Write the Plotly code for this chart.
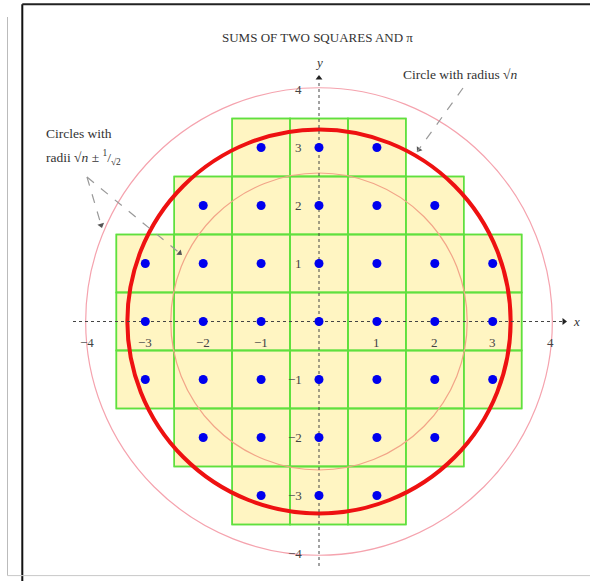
import math
import plotly.graph_objects as go

# ---------------- data ----------------
title_text = "SUMS OF TWO SQUARES AND π"
# lattice points (x, y) with x^2 + y^2 <= n  (n = 10)
pts_x = [-1, 0, 1,
         -2, -1, 0, 1, 2,
         -3, -2, -1, 0, 1, 2, 3,
         -3, -2, -1, 0, 1, 2, 3,
         -3, -2, -1, 0, 1, 2, 3,
         -2, -1, 0, 1, 2,
         -1, 0, 1]
pts_y = [3, 3, 3,
         2, 2, 2, 2, 2,
         1, 1, 1, 1, 1, 1, 1,
         0, 0, 0, 0, 0, 0, 0,
         -1, -1, -1, -1, -1, -1, -1,
         -2, -2, -2, -2, -2,
         -3, -3, -3]
# circle radii
r_outer = 4.03
r_main = 3.31
r_inner = 2.56
x_ticks = [-4, -3, -2, -1, 1, 2, 3, 4]
x_tick_labels = ["−4", "−3", "−2", "−1", "1", "2", "3", "4"]
y_ticks = [4, 3, 2, 1, -1, -2, -3, -4]
y_tick_labels = ["4", "3", "2", "1", "−1", "−2", "−3", "−4"]

# ---------------- styles ----------------
W, H = 590, 581
X0PX, UX = 319.0, 57.9
Y0PX, UY = 321.5, 58.0
xr = [-X0PX / UX, (W - X0PX) / UX]
yr = [-(H - Y0PX) / UY, Y0PX / UY]

def dx(px):
    return (px - X0PX) / UX

def dy(py):
    return (Y0PX - py) / UY

SERIF = "Liberation Serif, Times New Roman, serif"
fill_col = "#FFF5C2"
green = "#5FE03E"
blue = "#0000EE"
TXT = "#333333"

fig = go.Figure()
shapes = []
# unit squares around the lattice points
for px, py in zip(pts_x, pts_y):
    shapes.append(dict(type="rect", xref="x", yref="y",
                       x0=px - 0.5, x1=px + 0.5, y0=py - 0.5, y1=py + 0.5,
                       fillcolor=fill_col, line=dict(color=green, width=1.5),
                       layer="below"))
for px, py in zip(pts_x, pts_y):
    shapes.append(dict(type="rect", xref="x", yref="y",
                       x0=px - 0.5, x1=px + 0.5, y0=py - 0.5, y1=py + 0.5,
                       fillcolor="rgba(0,0,0,0)", line=dict(color=green, width=1.5),
                       layer="below"))
# circles
shapes.append(dict(type="circle", xref="x", yref="y", x0=-r_outer, x1=r_outer,
                   y0=-r_outer, y1=r_outer, line=dict(color="#F5A3AE", width=1.2), layer="below"))
shapes.append(dict(type="circle", xref="x", yref="y", x0=-r_inner, x1=r_inner,
                   y0=-r_inner, y1=r_inner, line=dict(color="#F2A588", width=1.2), layer="below"))
shapes.append(dict(type="circle", xref="x", yref="y", x0=-r_main, x1=r_main,
                   y0=-r_main, y1=r_main, line=dict(color="#EE1111", width=4), layer="below"))

# dashed pointer lines
pointers = [
    ((463, 88), (417, 152)),
    ((87, 177), (102, 228)),
    ((87, 177), (182, 255)),
]
head_x, head_y, head_ang = [], [], []
for (sx, sy), (ex, ey) in pointers:
    shapes.append(dict(type="line", xref="x", yref="y", x0=dx(sx), y0=dy(sy),
                       x1=dx(ex), y1=dy(ey), line=dict(color="#999999", width=1.2, dash="dash")))
    vx, vy = ex - sx, ey - sy
    L = (vx ** 2 + vy ** 2) ** 0.5
    head_x.append(dx(ex - vx / L * 3))
    head_y.append(dy(ey - vy / L * 3))
    head_ang.append(math.degrees(math.atan2(vx, -vy)))

# page frame (paper coords)
def px_(p):
    return p / W

def py_(p):
    return 1 - p / H

shapes += [
    dict(type="line", xref="paper", yref="paper", x0=px_(22.3), x1=px_(22.3), y0=py_(4.3), y1=0,
         line=dict(color="#111111", width=2)),
    dict(type="line", xref="paper", yref="paper", x0=px_(22.3), x1=1, y0=py_(4.3), y1=py_(4.3),
         line=dict(color="#222222", width=2)),
    dict(type="line", xref="paper", yref="paper", x0=px_(7.5), x1=px_(7.5), y0=py_(17), y1=py_(575.6),
         line=dict(color="#BBBBBB", width=1)),
    dict(type="line", xref="paper", yref="paper", x0=px_(7.5), x1=1, y0=py_(575.6), y1=py_(575.6),
         line=dict(color="#C8C8C8", width=1)),
]

# axes (dotted)
x_axis_start, x_axis_end = dx(73), dx(562)
y_axis_start, y_axis_end = dy(566), dy(80)
fig.add_trace(go.Scatter(x=[x_axis_start, x_axis_end], y=[0, 0], mode="lines",
                         line=dict(color="#444444", width=1, dash="dot"), hoverinfo="skip"))
fig.add_trace(go.Scatter(x=[0, 0], y=[y_axis_start, y_axis_end], mode="lines",
                         line=dict(color="#444444", width=1, dash="dot"), hoverinfo="skip"))
# axis arrow heads
fig.add_trace(go.Scatter(x=[dx(564), 0], y=[0, dy(78)], mode="markers",
                         marker=dict(symbol="triangle-up", size=6, color="#222222",
                                     angle=[90, 0], line=dict(width=0)),
                         hoverinfo="skip"))
# pointer arrow heads
fig.add_trace(go.Scatter(x=head_x, y=head_y, mode="markers",
                         marker=dict(symbol="triangle-up", size=6, color="#555555",
                                     angle=head_ang, line=dict(width=0)),
                         hoverinfo="skip"))

# lattice points
fig.add_trace(go.Scatter(x=pts_x, y=pts_y, mode="markers",
                         marker=dict(color=blue, size=9, line=dict(width=0)),
                         hoverinfo="x+y"))

annotations = []
annotations.append(dict(x=dx(576), y=0, xref="x", yref="y", text="<i>x</i>", showarrow=False,
                        font=dict(family=SERIF, size=13, color=TXT), xanchor="center"))
annotations.append(dict(x=0, y=dy(62), xref="x", yref="y", text="<i>y</i>", showarrow=False,
                        font=dict(family=SERIF, size=13, color=TXT)))

# tick labels
for t, lab in zip(x_ticks, x_tick_labels):
    annotations.append(dict(x=t, y=dy(342), xref="x", yref="y", text=lab, showarrow=False,
                            font=dict(family=SERIF, size=13, color="#444444")))
for t, lab in zip(y_ticks, y_tick_labels):
    annotations.append(dict(x=dx(304), y=t, xref="x", yref="y", text=lab, showarrow=False,
                            xanchor="right", font=dict(family=SERIF, size=13, color="#444444")))

# texts
annotations.append(dict(x=px_(317), y=py_(28), xref="paper", yref="paper", text=title_text,
                        showarrow=False, font=dict(family=SERIF, size=13, color=TXT)))
annotations.append(dict(x=dx(401), y=dy(74), xref="x", yref="y", xanchor="left",
                        text="Circle with radius √<i>n</i>", showarrow=False,
                        font=dict(family=SERIF, size=13.5, color=TXT)))
annotations.append(dict(x=dx(44), y=dy(133), xref="x", yref="y", xanchor="left",
                        text="Circles with", showarrow=False,
                        font=dict(family=SERIF, size=13.5, color=TXT)))
annotations.append(dict(x=dx(44), y=dy(157), xref="x", yref="y", xanchor="left",
                        text="radii √<i>n</i> ± <sup>1</sup>/<sub>√2</sub>", showarrow=False,
                        font=dict(family=SERIF, size=13.5, color=TXT)))

fig.update_layout(
    width=W, height=H,
    margin=dict(l=0, r=0, t=0, b=0),
    paper_bgcolor="white", plot_bgcolor="white",
    showlegend=False,
    xaxis=dict(range=xr, visible=False, fixedrange=True),
    yaxis=dict(range=yr, visible=False, fixedrange=True),
    shapes=shapes,
    annotations=annotations,
)

fig.write_html("out.html")
